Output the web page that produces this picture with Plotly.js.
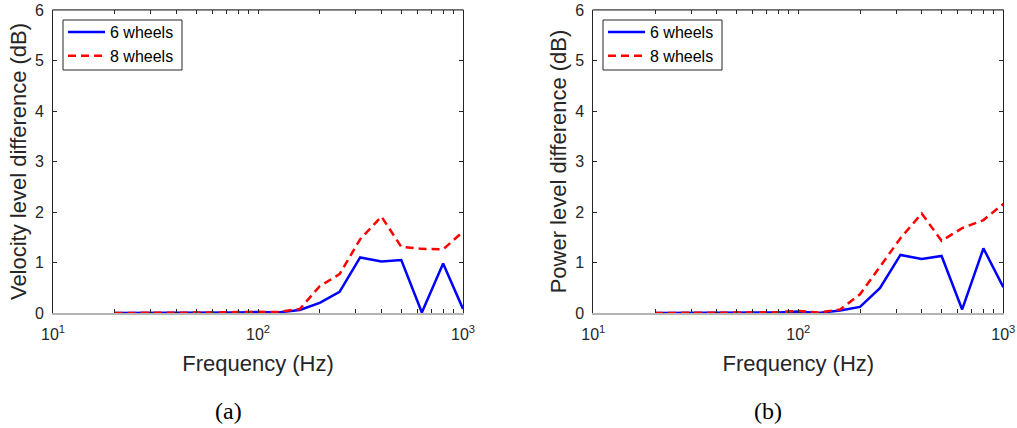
<!DOCTYPE html>
<html>
<head>
<meta charset="utf-8">
<script src="https://cdn.plot.ly/plotly-3.0.1.min.js"></script>
<style>html,body{margin:0;padding:0;background:#fff;}#chart{width:1017px;height:428px;}</style>
</head>
<body>
<div id="chart"></div>
<script>
// One-third octave band centre frequencies (Hz)
const freqs = [20, 25, 31.5, 40, 50, 63, 80, 100, 125, 160, 200, 250, 315, 400, 500, 630, 800, 1000];
// (a) Velocity level difference (dB)
const velocity6 = [0, 0, 0, 0, 0, 0.01, 0.01, 0.02, 0.01, 0.06, 0.2, 0.42, 1.1, 1.02, 1.05, 0.01, 0.98, 0.08];
const velocity8 = [0, 0, 0, 0, 0, 0.01, 0.02, 0.02, 0.02, 0.08, 0.53, 0.77, 1.46, 1.91, 1.31, 1.27, 1.26, 1.61];
// (b) Power level difference (dB)
const power6 = [0, 0, 0, 0, 0, 0.01, 0.01, 0.03, 0.0, 0.05, 0.12, 0.49, 1.15, 1.07, 1.13, 0.07, 1.28, 0.51];
const power8 = [0, 0, 0, 0, 0, 0.01, 0.02, 0.04, 0.01, 0.07, 0.37, 0.91, 1.48, 1.97, 1.43, 1.68, 1.84, 2.16];
const seriesNames = ['6 wheels', '8 wheels'];
const yTitles = ['Velocity level difference (dB)', 'Power level difference (dB)'];
const xTitle = 'Frequency (Hz)';
const captions = ['(a)', '(b)'];
const yTicks = [0, 1, 2, 3, 4, 5, 6];
const xTickVals = [10, 100, 1000];
const xTickText = ['10<sup>1</sup>', '10<sup>2</sup>', '10<sup>3</sup>'];
const xMinorVals = [20, 30, 40, 50, 60, 70, 80, 90, 200, 300, 400, 500, 600, 700, 800, 900];

const W = 1017, H = 428;
const dark = '#262626';
const tickFont = {family: 'Liberation Sans, Arial, sans-serif', size: 16, color: dark};
const titleFont = {family: 'Liberation Sans, Arial, sans-serif', size: 22, color: dark};

const blue = {color: '#0000ff', width: 2.5};
const red = {color: '#ff0000', width: 2.5, dash: '8px,5px'};

const traces = [
  {x: freqs, y: velocity6, name: seriesNames[0], type: 'scatter', mode: 'lines', line: blue, xaxis: 'x', yaxis: 'y', legend: 'legend'},
  {x: freqs, y: velocity8, name: seriesNames[1], type: 'scatter', mode: 'lines', line: red, xaxis: 'x', yaxis: 'y', legend: 'legend'},
  {x: freqs, y: power6, name: seriesNames[0], type: 'scatter', mode: 'lines', line: blue, xaxis: 'x2', yaxis: 'y2', legend: 'legend2'},
  {x: freqs, y: power8, name: seriesNames[1], type: 'scatter', mode: 'lines', line: red, xaxis: 'x2', yaxis: 'y2', legend: 'legend2'}
];

const domA = [53 / W, 463 / W];
const domB = [593.3 / W, 1003.3 / W];
const domY = [1 - 313 / H, 1 - 10 / H];

function xAxis(dom, anchor) {
  return {
    type: 'log', range: [1, 3], domain: dom, anchor: anchor,
    tickmode: 'array', tickvals: xTickVals, ticktext: xTickText,
    ticks: 'inside', ticklen: 4, tickwidth: 1, tickcolor: dark,
    minor: {tickmode: 'array', tickvals: xMinorVals, ticks: 'inside', ticklen: 4, tickwidth: 1, tickcolor: dark, showgrid: false},
    showline: true, linecolor: '#b4b4b4', linewidth: 1.5, mirror: 'ticks',
    showgrid: false, zeroline: false, tickfont: tickFont, ticklabelstandoff: 6,
    title: {text: xTitle, font: titleFont, standoff: 14}
  };
}
function yAxis(anchor, title) {
  return {
    range: [0, 6], domain: domY, anchor: anchor,
    tickmode: 'array', tickvals: yTicks,
    ticks: 'inside', ticklen: 4, tickwidth: 1, tickcolor: dark,
    showline: true, linecolor: dark, linewidth: 1, mirror: 'ticks',
    showgrid: false, zeroline: false, tickfont: tickFont, ticklabelstandoff: 5,
    title: {text: title, font: titleFont, standoff: 2}
  };
}
function legendBox(x) {
  return {
    x: x, y: 1 - 15 / H, xanchor: 'left', yanchor: 'top', xref: 'paper', yref: 'paper',
    bgcolor: 'rgba(0,0,0,0)', borderwidth: 0,
    font: {family: 'Liberation Sans, Arial, sans-serif', size: 16, color: '#000'},
    itemwidth: 37, tracegroupgap: 0
  };
}
function legendFrame(x0px) {
  return {type: 'rect', xref: 'paper', yref: 'paper', x0: x0px / W, x1: (x0px + 119) / W,
          y0: 1 - 70 / H, y1: 1 - 20 / H, line: {color: dark, width: 1}, fillcolor: '#ffffff', layer: 'above'};
}

const layout = {
  width: W, height: H,
  margin: {l: 0, r: 0, t: 0, b: 0},
  paper_bgcolor: '#fff', plot_bgcolor: '#fff',
  showlegend: true,
  xaxis: xAxis(domA, 'y'),
  yaxis: yAxis('x', yTitles[0]),
  xaxis2: xAxis(domB, 'y2'),
  yaxis2: yAxis('x2', yTitles[1]),
  legend: legendBox(63 / W),
  legend2: legendBox(603 / W),
  shapes: [
    {type: 'line', xref: 'x domain', yref: 'y domain', x0: 0, x1: 1, y0: 1, y1: 1, line: {color: dark, width: 1}, layer: 'above'},
    {type: 'line', xref: 'x2 domain', yref: 'y2 domain', x0: 0, x1: 1, y0: 1, y1: 1, line: {color: dark, width: 1}, layer: 'above'},
    legendFrame(63), legendFrame(603)
  ],
  annotations: [
    {text: captions[0], xref: 'paper', yref: 'paper', x: 228 / W, y: 1 - 411 / H, xanchor: 'center', yanchor: 'middle', showarrow: false,
     font: {family: 'Liberation Serif, Times New Roman, serif', size: 24, color: '#000'}},
    {text: captions[1], xref: 'paper', yref: 'paper', x: 768 / W, y: 1 - 411 / H, xanchor: 'center', yanchor: 'middle', showarrow: false,
     font: {family: 'Liberation Serif, Times New Roman, serif', size: 24, color: '#000'}}
  ]
};

Plotly.newPlot('chart', traces, layout, {displayModeBar: false, staticPlot: true});
</script>
</body>
</html>
